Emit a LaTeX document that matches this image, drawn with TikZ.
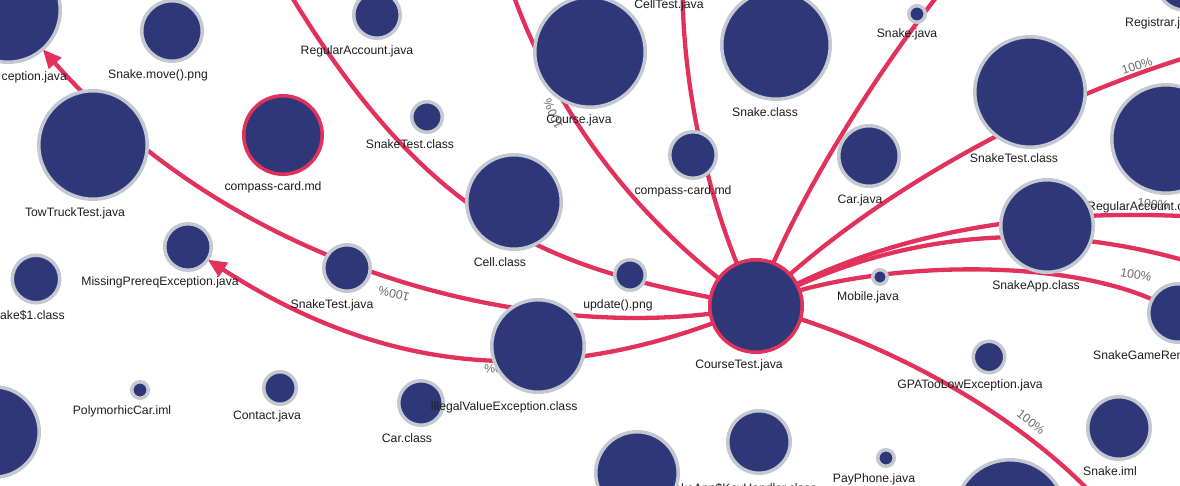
\documentclass[tikz,border=0pt]{standalone}
\usepackage{fontspec}
\setmainfont{Liberation Sans}
\usetikzlibrary{arrows.meta}
\pgfdeclarelayer{bg}
\pgfsetlayers{bg,main}
\definecolor{navy}{RGB}{46,56,121}
\definecolor{ring}{RGB}{196,201,209}
\definecolor{edgered}{RGB}{226,50,91}
\definecolor{txt}{RGB}{30,30,30}
\definecolor{pct}{RGB}{105,105,105}
\tikzset{
  fnode/.style={circle, fill=navy, draw=ring, line width=3.5pt, inner sep=0pt, outer sep=0pt, minimum size={(2*#1-3.5)*1pt}},
  hot/.style={draw=edgered},
  lbl/.style={font=\fontsize{12.2}{14}\selectfont, text=txt, inner sep=0pt, anchor=base},
  pctl/.style={font=\fontsize{12.2}{14}\selectfont, text=pct, inner sep=0pt},
  link/.style={draw=edgered, line width=4.3pt},
  linkarrow/.style={link, -{Triangle[length=19pt,width=16pt]}},
}
\begin{document}
\begin{tikzpicture}[x=1pt,y=-1pt]
\useasboundingbox (0,0) rectangle (1180,486);
% nodes
\node[fnode=54] (A) at (8,10) {};
\node[lbl, anchor=base east] (lA) at (67,81) {ception.java};
\node[fnode=32] (B) at (172,31) {};
\node[lbl] (lB) at (158,79) {Snake.move().png};
\node[fnode=25] (C) at (377,15) {};
\node[lbl] (lC) at (357,55) {RegularAccount.java};
\node[fnode=41, hot] (D) at (283,135) {};
\node[lbl] (lD) at (273,191) {compass-card.md};
\node[fnode=17] (E) at (427,117) {};
\node[lbl] (lE) at (410,149) {SnakeTest.class};
\node[fnode=56] (F) at (93,145) {};
\node[lbl] (lF) at (75,217) {TowTruckTest.java};
\node[fnode=49] (G) at (514,202) {};
\node[lbl] (lG) at (500,266) {Cell.class};
\node[fnode=57] (H) at (590,52) {};
\node[lbl] (lH) at (579,124) {Course.java};
\node[fnode=30] (I) at (683,-36) {};
\node[lbl] (lI) at (669,9) {CellTest.java};
\node[fnode=56] (J) at (776,45) {};
\node[lbl] (lJ) at (765,117) {Snake.class};
\node[fnode=25] (K) at (693,155) {};
\node[lbl] (lK) at (683,195) {compass-card.md};
\node[fnode=10] (L) at (917,14) {};
\node[lbl] (lL) at (907,38) {Snake.java};
\node[fnode=30] (M) at (1185,-18) {};
\node[lbl, anchor=base west] (lM) at (1125,27) {Registrar.j};
\node[fnode=57] (N) at (1030,92) {};
\node[lbl] (lN) at (1014,163) {SnakeTest.class};
\node[fnode=56] (O) at (1166,139) {};
\node[lbl, anchor=base west] (lO) at (1087,211) {RegularAccount.c};
\node[fnode=32] (P) at (869,156) {};
\node[lbl] (lP) at (860,204) {Car.java};
\node[fnode=48] (Q) at (1047,226) {};
\node[lbl] (lQ) at (1036,289) {SnakeApp.class};
\node[fnode=9] (R) at (880,277) {};
\node[lbl] (lR) at (868,301) {Mobile.java};
\node[fnode=31] (S) at (1178,313) {};
\node[lbl, anchor=base west] (lS) at (1093,359) {SnakeGameRen};
\node[fnode=17.5] (T) at (989,357) {};
\node[lbl] (lT) at (970,388) {GPATooLowException.java};
\node[fnode=33] (U) at (1119,428) {};
\node[lbl] (lU) at (1110,475) {Snake.iml};
\node[fnode=10] (V) at (886,458) {};
\node[lbl] (lV) at (874,482) {PayPhone.java};
\node[fnode=57] (W) at (1010,515) {};
\node[fnode=33] (X) at (759,442) {};
\node[lbl] (lX) at (738,492) {SnakeApp\$KeyHandler.class};
\node[fnode=43] (Y) at (637,473) {};
\node[fnode=24] (Z) at (421,403) {};
\node[lbl] (lZ) at (407,442) {Car.class};
\node[fnode=48] (AA) at (538,346) {};
\node[lbl] (lAA) at (504,410) {IllegalValueException.class};
\node[fnode=17] (AB) at (630,275) {};
\node[lbl] (lAB) at (618,308) {update().png};
\node[fnode=25] (AC) at (347,268) {};
\node[lbl] (lAC) at (332,308) {SnakeTest.java};
\node[fnode=25] (AD) at (188,247) {};
\node[lbl] (lAD) at (160,286) {MissingPrereqException.java};
\node[fnode=25.5] (AE) at (36,279) {};
\node[lbl, anchor=base west] (lAE) at (0,319) {ake\$1.class};
\node[fnode=47] (AF) at (-6,432) {};
\node[fnode=10] (AG) at (140,390) {};
\node[lbl] (lAG) at (122,414) {PolymorhicCar.iml};
\node[fnode=18] (AH) at (280,388) {};
\node[lbl] (lAH) at (267,419) {Contact.java};
\node[fnode=48, hot] (CT) at (756,306) {};
\node[lbl] (lCT) at (739,368) {CourseTest.java};
% off-canvas ends
\coordinate (c4) at (270,-40);
\coordinate (c5) at (505,-30);
\coordinate (c7) at (975,-50);
\coordinate (c8) at (1250,40);
\coordinate (c9a) at (1260,222);
\coordinate (c9b) at (1230,275);
\coordinate (c11) at (1145,560);
\begin{pgfonlayer}{bg}
\fill[white] (0,0) rectangle (1180,486);
\draw[linkarrow] (CT.center) .. controls (580,345) and (260,295) .. (A);
\draw[linkarrow] (CT.center) .. controls (559,391) and (390,377) .. (AD);
\draw[link] (CT.center) .. controls (560,270) and (430,240) .. (c4);
\draw[link] (CT.center) .. controls (660,240) and (555,130) .. (c5);
\draw[link] (CT.center) .. controls (715,225) and (678,90) .. (I.center);
\draw[link] (CT.center) .. controls (790,210) and (880,60) .. (c7);
\draw[link] (CT.center) .. controls (866,196) and (1060,85) .. (c8);
\draw[link] (CT.center) .. controls (850,250) and (1010,195) .. (c9a);
\draw[link] (CT.center) .. controls (860,250) and (1020,200) .. (c9b);
\draw[link] (CT.center) .. controls (850,262) and (1080,250) .. (S.center);
\draw[link] (CT.center) .. controls (870,335) and (1055,420) .. (c11);
\node[pctl, rotate=168] (p1) at (394,294) {100\%};
\node[pctl, rotate=181] (p2) at (500,369) {100\%};
\node[pctl, rotate=114] (p3) at (553,114) {100\%};
\node[pctl, rotate=18] (p4) at (1137,66) {100\%};
\node[pctl, rotate=-5] (p5) at (1153,204) {100\%};
\node[pctl, rotate=-10] (p6) at (1136,275) {100\%};
\node[pctl, rotate=-38] (p7) at (1031,422) {100\%};
\end{pgfonlayer}
\end{tikzpicture}
\end{document}
